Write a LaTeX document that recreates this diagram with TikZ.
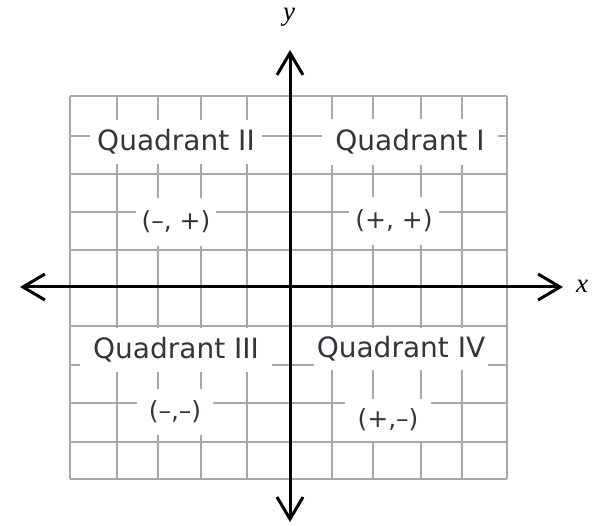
\documentclass[tikz,border=0pt]{standalone}
\usepackage{fontspec}
\setmainfont{DejaVu Sans}
\newfontfamily\axisfont{Liberation Serif}
\usetikzlibrary{arrows.meta}
\definecolor{gridgray}{HTML}{A8A8A8}
\definecolor{txtcol}{HTML}{34343F}
\tikzset{
  gridline/.style={draw=gridgray,line width=2pt},
  axisline/.style={draw=black,line width=3pt,
    {Straight Barb[length=22pt,width=26pt]}-{Straight Barb[length=22pt,width=26pt]}},
  qlabel/.style={fill=white,inner sep=0pt,text=txtcol,font=\fontsize{28}{32}\selectfont},
  slabel/.style={fill=white,inner sep=0pt,text=txtcol,font=\fontsize{25}{30}\selectfont},
  axlabel/.style={inner sep=0pt,font=\axisfont\itshape\fontsize{27}{30}\selectfont}
}
\begin{document}
\begin{tikzpicture}[x=1pt,y=-1pt]
\useasboundingbox (0,0) rectangle (595,526);
% grid
\foreach \gx in {70,117,158,201,247,290,332,373,421,462,507}
  \draw[gridline] (\gx,96) -- (\gx,479);
\foreach \gy in {96,136,174,212,250,287,326,365,403,442,479}
  \draw[gridline] (70,\gy) -- (507,\gy);
% labels with white gaps
\node[qlabel,minimum width=172pt,minimum height=44pt] (q2) at (176,142) {Quadrant II};
\node[qlabel,minimum width=176pt,minimum height=46pt] (q1) at (410,142) {Quadrant I};
\node[qlabel,minimum width=192pt,minimum height=44pt] (q3) at (176,350) {Quadrant III};
\node[qlabel,minimum width=174pt,minimum height=42pt] (q4) at (401,349) {Quadrant IV};
\node[slabel,minimum width=80pt,minimum height=48pt] (s2) at (176,222) {(–, +)};
\node[slabel,minimum width=90pt,minimum height=48pt] (s1) at (394,221) {(+, +)};
\node[slabel,minimum width=76pt,minimum height=46pt] (s3) at (175,412) {(–,–)};
\node[slabel,minimum width=86pt,minimum height=42pt] (s4) at (388,420) {(+,–)};
% axes
\coordinate (xl) at (20,287);
\coordinate (xr) at (563,287);
\coordinate (yt) at (290,50);
\coordinate (yb) at (290,522);
\draw[axisline] (xl) -- (xr);
\draw[axisline] (yb) -- (yt);
\node[axlabel] (xlab) at (582,286) {x};
\node[axlabel] (ylab) at (289,17) {y};
\end{tikzpicture}
\end{document}
